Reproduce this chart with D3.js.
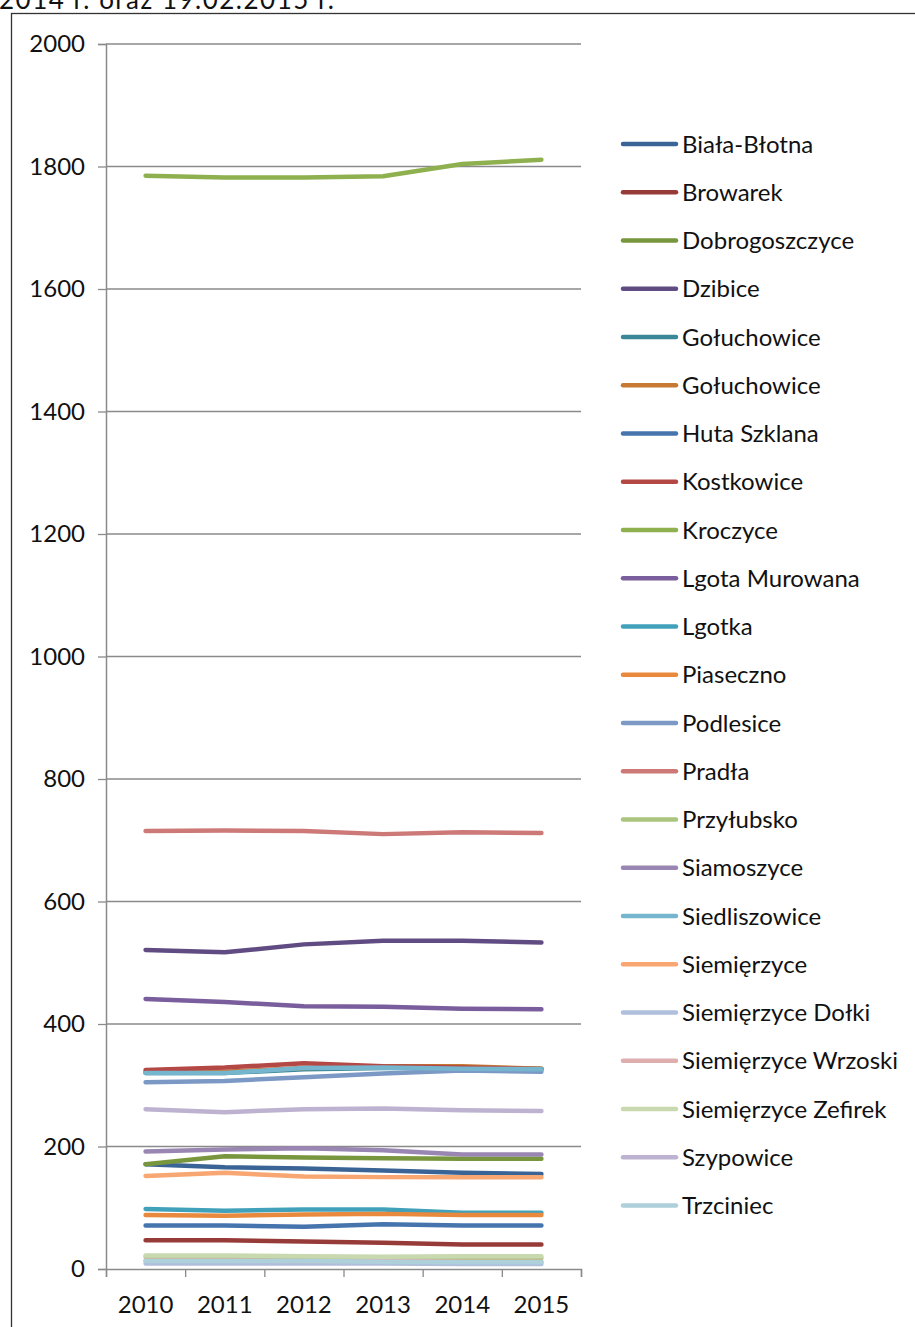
<!DOCTYPE html>
<html>
<head>
<meta charset="utf-8">
<script src="https://cdn.jsdelivr.net/npm/d3@7"></script>
<style>
  html, body { margin: 0; padding: 0; background: #fff; }
  svg { display: block; font-family: Lato, "Open Sans", sans-serif; }
</style>
</head>
<body>
<svg id="chart" width="915" height="1327"></svg>
<script>
// Years on the category axis
const years = ["2010", "2011", "2012", "2013", "2014", "2015"];

// Village names (legend order = drawing order)
const villages = [
  "Biała-Błotna", "Browarek", "Dobrogoszczyce", "Dzibice", "Gołuchowice",
  "Gołuchowice", "Huta Szklana", "Kostkowice", "Kroczyce", "Lgota Murowana",
  "Lgotka", "Piaseczno", "Podlesice", "Pradła", "Przyłubsko", "Siamoszyce",
  "Siedliszowice", "Siemięrzyce", "Siemięrzyce Dołki", "Siemięrzyce Wrzoski",
  "Siemięrzyce Zefirek", "Szypowice", "Trzciniec"
];

// Population per village, 2010–2015
const bialaBlotna      = [171, 166, 164, 161, 157, 155];
const browarek         = [47, 47, 45, 43, 40, 40];
const dobrogoszczyce   = [171, 184, 182, 181, 180, 180];
const dzibice          = [521, 517, 530, 536, 536, 533];
const goluchowiceA     = [320, 320, 326, 328, 328, 327];
const goluchowiceB     = [322, 322, 328, 331, 331, 327];
const hutaSzklana      = [71, 71, 69, 73, 71, 71];
const kostkowice       = [325, 329, 336, 331, 329, 326];
const kroczyce         = [1785, 1782, 1782, 1784, 1804, 1811];
const lgotaMurowana    = [441, 436, 429, 428, 425, 424];
const lgotka           = [98, 95, 97, 97, 92, 92];
const piaseczno        = [88, 87, 89, 90, 88, 88];
const podlesice        = [305, 307, 313, 319, 324, 322];
const pradla           = [715, 716, 715, 710, 713, 712];
const przylubsko       = [20, 20, 19, 18, 18, 18];
const siamoszyce       = [192, 195, 197, 194, 187, 187];
const siedliszowice    = [320, 320, 328, 329, 327, 326];
const siemierzyce      = [152, 157, 151, 150, 150, 150];
const siemDolki        = [9, 9, 9, 9, 8, 8];
const siemWrzoski      = [14, 14, 13, 13, 12, 12];
const siemZefirek      = [22, 22, 21, 20, 21, 21];
const szypowice        = [261, 256, 261, 262, 259, 258];
const trzciniec        = [13, 13, 13, 12, 11, 11];

const seriesValues = [
  bialaBlotna, browarek, dobrogoszczyce, dzibice, goluchowiceA, goluchowiceB,
  hutaSzklana, kostkowice, kroczyce, lgotaMurowana, lgotka, piaseczno,
  podlesice, pradla, przylubsko, siamoszyce, siedliszowice, siemierzyce,
  siemDolki, siemWrzoski, siemZefirek, szypowice, trzciniec
];

// Y-axis tick labels
const yTicks = [0, 200, 400, 600, 800, 1000, 1200, 1400, 1600, 1800, 2000];

const colors = [
  "#3B6496", "#973B39", "#78963E", "#604C82", "#3A8797", "#C77833",
  "#4675AE", "#B44845", "#8FB04F", "#7A5D9C", "#42A1BA", "#E8893D",
  "#7C99C6", "#CC7977", "#ABC57F", "#9A86B3", "#75B6CE", "#F8A672",
  "#B0BFDC", "#DDAEAD", "#C8D8AF", "#BDB3D1", "#ADD0DB"
];

const FONT = 24;
const svg = d3.select("#chart");

// Caption fragment above the chart frame
svg.append("text")
  .attr("x", -1).attr("y", 9)
  .attr("font-size", 26).attr("fill", "#111")
  .attr("textLength", 335).attr("lengthAdjust", "spacing")
  .text("2014 r. oraz 19.02.2015 r.");

// Chart frame
svg.append("rect")
  .attr("x", 11.5).attr("y", 13.5)
  .attr("width", 940).attr("height", 1340)
  .attr("fill", "none").attr("stroke", "#333").attr("stroke-width", 1.3);

const plot = { left: 106, right: 581, top: 44, bottom: 1269 };

const y = d3.scaleLinear().domain([0, 2000]).range([plot.bottom, plot.top]);
const xEdge = d3.scaleLinear().domain([0, years.length]).range([plot.left, plot.right]);
const xPos = i => xEdge(i + 0.5);

// Horizontal gridlines
svg.append("g").selectAll("line")
  .data(yTicks.filter(d => d > 0))
  .join("line")
  .attr("x1", plot.left).attr("x2", plot.right)
  .attr("y1", d => y(d)).attr("y2", d => y(d))
  .attr("stroke", "#8a8a8a").attr("stroke-width", 1.3);

// Y axis
const yAxis = svg.append("g")
  .attr("transform", `translate(${plot.left},0)`)
  .call(d3.axisLeft(y).tickValues(yTicks).tickSize(8).tickPadding(13).tickFormat(d3.format("d")));
yAxis.select(".domain").attr("stroke", "#8a8a8a").attr("stroke-width", 1.5);
yAxis.selectAll(".tick line").attr("stroke", "#8a8a8a").attr("stroke-width", 1.3);
yAxis.selectAll(".tick text")
  .attr("font-size", FONT).attr("fill", "#111")
  .attr("font-family", "Lato, 'Open Sans', sans-serif");

// X axis with ticks on category boundaries
const xAxis = svg.append("g")
  .attr("transform", `translate(0,${plot.bottom})`)
  .call(d3.axisBottom(xEdge).tickValues(d3.range(years.length + 1)).tickSize(8).tickFormat(""));
xAxis.select(".domain").attr("stroke", "#8a8a8a").attr("stroke-width", 1.5);
xAxis.selectAll(".tick line").attr("stroke", "#8a8a8a").attr("stroke-width", 1.3);

svg.append("g").selectAll("text")
  .data(years)
  .join("text")
  .attr("x", (d, i) => xPos(i))
  .attr("y", 1313)
  .attr("text-anchor", "middle")
  .attr("font-size", FONT).attr("fill", "#111")
  .text(d => d);

// Series lines
const line = d3.line()
  .x((d, i) => xPos(i))
  .y(d => y(d));

svg.append("g").selectAll("path")
  .data(seriesValues)
  .join("path")
  .attr("d", d => line(d))
  .attr("fill", "none")
  .attr("stroke", (d, i) => colors[i])
  .attr("stroke-width", 4.5)
  .attr("stroke-linecap", "round")
  .attr("stroke-linejoin", "round");

// Legend
const legend = svg.append("g");
const item = legend.selectAll("g")
  .data(villages)
  .join("g")
  .attr("transform", (d, i) => `translate(0,${144 + i * 48.25})`);
item.append("line")
  .attr("x1", 623).attr("x2", 676)
  .attr("stroke", (d, i) => colors[i])
  .attr("stroke-width", 4.5)
  .attr("stroke-linecap", "round");
item.append("text")
  .attr("x", 682).attr("y", 0)
  .attr("dy", "0.36em")
  .attr("font-size", FONT).attr("fill", "#111")
  .text(d => d);
</script>
</body>
</html>
